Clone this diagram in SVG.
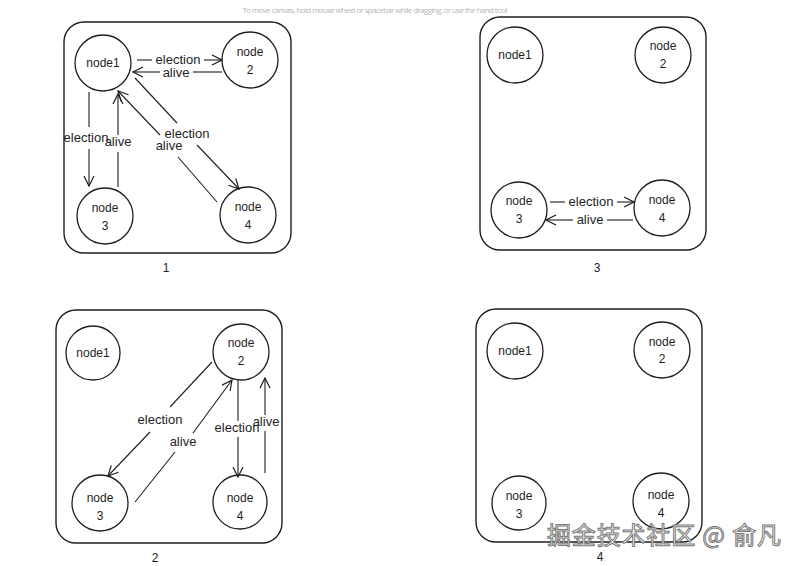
<svg xmlns="http://www.w3.org/2000/svg" width="800" height="566" viewBox="0 0 800 566">
<style>
.frame{fill:none;stroke:#1e1e1e;stroke-width:1.4}
.node{fill:#fff;stroke:#1e1e1e;stroke-width:1.3}
.nt{font-family:"Liberation Sans",Arial,sans-serif;font-size:12px;fill:#1e1e1e;text-anchor:middle}
.el{font-family:"Liberation Sans",Arial,sans-serif;font-size:13px;fill:#1e1e1e;text-anchor:middle}
.pl{font-family:"Liberation Sans",Arial,sans-serif;font-size:12px;fill:#1e1e1e;text-anchor:middle}
.ln{fill:none;stroke:#1e1e1e;stroke-width:1.1}
.ar{fill:none;stroke:#1e1e1e;stroke-width:1.1;marker-end:url(#ah)}
</style>
<defs>
<marker id="ah" viewBox="0 0 12 12" refX="11" refY="6" markerWidth="12" markerHeight="12" orient="auto" markerUnits="userSpaceOnUse">
<path d="M1,1 L11,6 L1,11" fill="none" stroke="#1e1e1e" stroke-width="1.2"/>
</marker>
</defs>
<rect width="800" height="566" fill="#fff"/>
<text x="375" y="13" font-family="'Open Sans','Liberation Sans',sans-serif" font-size="8" fill="#b8b8b8" text-anchor="middle" textLength="265">To move canvas, hold mouse wheel or spacebar while dragging, or use the hand tool</text>

<!-- Panel 1 -->
<g id="panel1">
<rect class="frame" x="64" y="22" width="227" height="231" rx="20"/>
<text class="pl" x="166" y="272">1</text>
</g>
<g id="p1-node1"><circle class="node" cx="103" cy="63" r="28"/><text class="nt" x="103" y="67">node1</text></g>
<g id="p1-node2"><circle class="node" cx="250" cy="60" r="28"/><text class="nt" x="250" y="56">node</text><text class="nt" x="250" y="74">2</text></g>
<g id="p1-node3"><circle class="node" cx="105" cy="216" r="28"/><text class="nt" x="105" y="212">node</text><text class="nt" x="105" y="230">3</text></g>
<g id="p1-node4"><circle class="node" cx="248" cy="215" r="28"/><text class="nt" x="248" y="211">node</text><text class="nt" x="248" y="229">4</text></g>
<g id="p1-connectors">
<line class="ln" x1="137" y1="60" x2="152" y2="60"/><line class="ar" x1="204" y1="60" x2="222" y2="60"/>
<text class="el" x="178" y="64">election</text>
<line class="ln" x1="222" y1="72" x2="193" y2="72"/><line class="ar" x1="160" y1="72" x2="133" y2="72"/>
<text class="el" x="176" y="77">alive</text>
<line class="ln" x1="89" y1="92" x2="89" y2="127"/><line class="ar" x1="89" y1="149" x2="89" y2="186"/>
<text class="el" x="86" y="142">election</text>
<line class="ln" x1="118" y1="187" x2="118" y2="152"/><line class="ar" x1="118" y1="135" x2="118" y2="94"/>
<text class="el" x="118" y="146">alive</text>
<line class="ln" x1="135" y1="78" x2="177" y2="123"/><line class="ar" x1="197" y1="145" x2="239" y2="189"/>
<text class="el" x="187" y="138">election</text>
<line class="ln" x1="217" y1="202" x2="178" y2="157"/><line class="ar" x1="160" y1="135" x2="118" y2="91"/>
<text class="el" x="169" y="150">alive</text>
</g>

<!-- Panel 3 -->
<g id="panel3">
<rect class="frame" x="480" y="17" width="226" height="233" rx="20"/>
<text class="pl" x="597" y="272">3</text>
</g>
<g id="p3-node1"><circle class="node" cx="515" cy="55" r="28"/><text class="nt" x="515" y="59">node1</text></g>
<g id="p3-node2"><circle class="node" cx="663" cy="55" r="28"/><text class="nt" x="663" y="50">node</text><text class="nt" x="663" y="68">2</text></g>
<g id="p3-node3"><circle class="node" cx="519" cy="210" r="28"/><text class="nt" x="519" y="205">node</text><text class="nt" x="519" y="223">3</text></g>
<g id="p3-node4"><circle class="node" cx="662" cy="208" r="28"/><text class="nt" x="662" y="204">node</text><text class="nt" x="662" y="222">4</text></g>
<g id="p3-connectors">
<line class="ln" x1="550" y1="202" x2="565" y2="202"/><line class="ar" x1="617" y1="202" x2="634" y2="202"/>
<text class="el" x="591" y="206">election</text>
<line class="ln" x1="633" y1="220" x2="607" y2="220"/><line class="ar" x1="573" y1="220" x2="546" y2="220"/>
<text class="el" x="590" y="224">alive</text>
</g>

<!-- Panel 2 -->
<g id="panel2">
<rect class="frame" x="56" y="310" width="226" height="233" rx="20"/>
<text class="pl" x="155" y="562">2</text>
</g>
<g id="p2-node1"><circle class="node" cx="93" cy="353" r="27"/><text class="nt" x="93" y="357">node1</text></g>
<g id="p2-node2"><circle class="node" cx="241" cy="352" r="28"/><text class="nt" x="241" y="347">node</text><text class="nt" x="241" y="365">2</text></g>
<g id="p2-node3"><circle class="node" cx="100" cy="503" r="28"/><text class="nt" x="100" y="502">node</text><text class="nt" x="100" y="520">3</text></g>
<g id="p2-node4"><circle class="node" cx="240" cy="502" r="27"/><text class="nt" x="240" y="502">node</text><text class="nt" x="240" y="520">4</text></g>
<g id="p2-connectors">
<line class="ln" x1="212" y1="362" x2="170" y2="407"/><line class="ar" x1="150" y1="432" x2="108" y2="476"/>
<text class="el" x="160" y="424">election</text>
<line class="ln" x1="135" y1="502" x2="175" y2="452"/><line class="ar" x1="193" y1="433" x2="232" y2="380"/>
<text class="el" x="183" y="446">alive</text>
<line class="ln" x1="238" y1="380" x2="238" y2="421"/><line class="ar" x1="238" y1="437" x2="238" y2="477"/>
<text class="el" x="237" y="432">election</text>
<line class="ln" x1="265" y1="473" x2="265" y2="431"/><line class="ar" x1="265" y1="415" x2="265" y2="378"/>
<text class="el" x="266" y="426">alive</text>
</g>

<!-- Panel 4 -->
<g id="panel4">
<rect class="frame" x="476" y="309" width="226" height="233" rx="20"/>
<text class="pl" x="600" y="561">4</text>
</g>
<g id="p4-node1"><circle class="node" cx="515" cy="351" r="28"/><text class="nt" x="515" y="355">node1</text></g>
<g id="p4-node2"><circle class="node" cx="662" cy="350" r="28"/><text class="nt" x="662" y="346">node</text><text class="nt" x="662" y="363">2</text></g>
<g id="p4-node3"><circle class="node" cx="519" cy="503" r="27"/><text class="nt" x="519" y="500">node</text><text class="nt" x="519" y="518">3</text></g>
<g id="p4-node4"><circle class="node" cx="661" cy="501" r="28"/><text class="nt" x="661" y="499">node</text><text class="nt" x="661" y="517">4</text></g>

<text x="664" y="544" font-family="'Noto Sans CJK SC','Liberation Sans',sans-serif" font-size="24" fill="#fff" stroke="#777" stroke-width="1" text-anchor="middle" textLength="234">掘金技术社区 @ 俞凡</text>
</svg>
